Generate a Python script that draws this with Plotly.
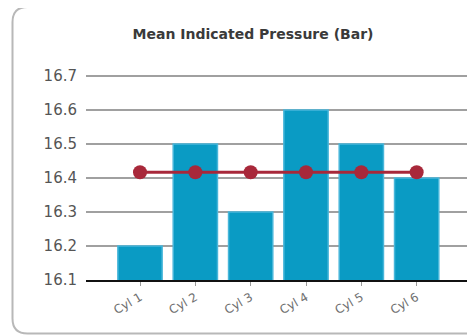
import plotly.graph_objects as go

categories = ["Cyl 1", "Cyl 2", "Cyl 3", "Cyl 4", "Cyl 5", "Cyl 6"]
pressure = [16.2, 16.5, 16.3, 16.6, 16.5, 16.4]
mean_line = [16.417, 16.417, 16.417, 16.417, 16.417, 16.417]
y_ticks = [16.1, 16.2, 16.3, 16.4, 16.5, 16.6, 16.7]

# page body has an 8px margin, so figure coords = window coords - 8
OFF = 8
W, H = 475 - OFF, 336 - OFF
L, R, T, B = 86 - OFF, 3, 74 - OFF, 56
pw, ph = W - L - R, H - T - B


def px(x):
    return (x - OFF - L) / pw


def py(y):
    return (H - B - (y - OFF)) / ph


fig = go.Figure()
fig.add_trace(go.Bar(
    x=categories, y=pressure, width=0.8,
    marker=dict(color="#0a9bc4", line=dict(color="#48b6da", width=1.5)),
    hoverinfo="y",
))
fig.add_trace(go.Scatter(
    x=categories, y=mean_line, mode="lines+markers",
    line=dict(color="#a8283a", width=3),
    marker=dict(color="#a8283a", size=14),
))

# rounded frame (open on the right, running off the page)
lft, top, bot, rgt, r = 12.5, 7, 333.5, 700, 15
path = (f"M {px(rgt)},{py(top)} L {px(lft + r)},{py(top)} "
        f"Q {px(lft)},{py(top)} {px(lft)},{py(top + r)} "
        f"L {px(lft)},{py(bot - r)} Q {px(lft)},{py(bot)} {px(lft + r)},{py(bot)} "
        f"L {px(rgt)},{py(bot)}")
fig.add_shape(type="path", path=path, xref="paper", yref="paper",
              line=dict(color="#b8b8b8", width=2), layer="below")
fig.add_shape(type="line", xref="paper", yref="paper",
              x0=px(6.5), x1=px(6.5), y0=py(0), y1=py(H + OFF),
              line=dict(color="#e2e2e2", width=1), layer="below")

fig.update_layout(
    width=W, height=H,
    margin=dict(l=L, r=R, t=T, b=B),
    paper_bgcolor="white", plot_bgcolor="white",
    showlegend=False,
    font=dict(family="DejaVu Sans", color="#555555"),
    title=dict(text="<b>Mean Indicated Pressure (Bar)</b>",
               font=dict(size=14, color="#3a3a3a", family="DejaVu Sans"),
               xref="container", yref="container",
               x=(253 - OFF) / W, y=1 - (34 - OFF) / H,
               xanchor="center", yanchor="middle"),
    bargap=0.2,
)
fig.update_xaxes(
    range=[-0.976, 6.0],
    showgrid=False,
    showline=True, linecolor="#111111", linewidth=1.5,
    ticks="outside", ticklen=4, tickcolor="#999999",
    tickangle=-30,
    tickfont=dict(size=12, color="#707070"),
    fixedrange=True,
)
fig.update_yaxes(
    range=[16.1, 16.7 + 0.6 * 2 / 204],
    tickvals=y_ticks,
    ticktext=[f"{v:.1f}" for v in y_ticks],
    showgrid=True, gridcolor="#a0a0a0", gridwidth=1.5,
    zeroline=False, showline=False,
    ticks="", ticklabelstandoff=8,
    tickfont=dict(size=15, color="#555555"),
    fixedrange=True,
)

fig.write_html("out.html")
